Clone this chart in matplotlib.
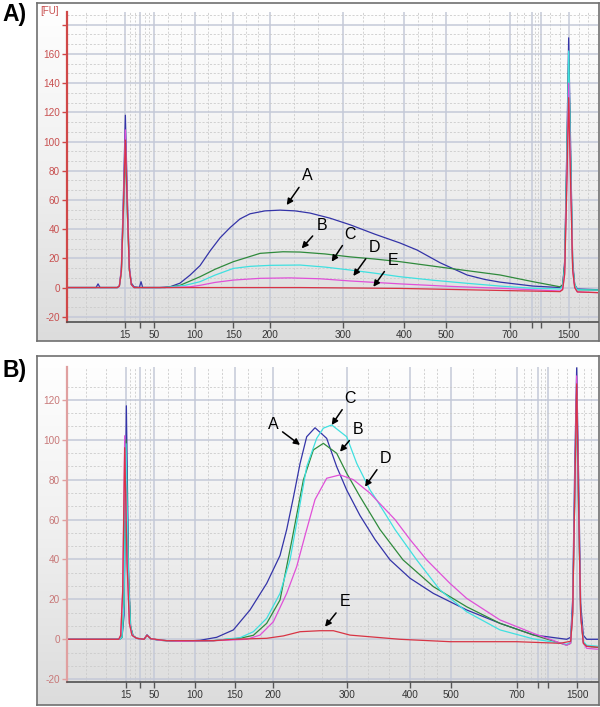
import numpy as np
import matplotlib
matplotlib.use("Agg")
import matplotlib.pyplot as plt
from matplotlib.colors import LinearSegmentedColormap

plt.rcParams['font.family'] = ['Liberation Sans', 'DejaVu Sans']

# ---------------------------------------------------------------
# ladder: size (bp) and migration time (s) of every ladder peak
# ---------------------------------------------------------------
ladder_bp = [15, 25, 50, 100, 150, 200, 300, 400, 500, 700, 850, 1000, 1500]
ladder_shown = ["15", "", "50", "100", "150", "200", "300", "400", "500", "700", "", "", "1500"]
a_ladder_t = [48.75, 51.0, 53.1, 59.25, 65.0, 70.5, 81.4, 90.6, 96.9, 106.5, 109.75, 111.1, 115.35]
b_ladder_t = [48.85, 51.0, 53.15, 59.25, 65.25, 71.0, 82.0, 91.5, 97.6, 107.5, 110.75, 112.15, 116.6]

# ---------------------------------------------------------------
# panel A traces (time s, fluorescence FU)
# ---------------------------------------------------------------
a_blue_t = [40, 44.4, 44.7, 45.0, 47.6, 47.9, 48.2, 48.5, 48.8, 49.1, 49.4, 49.7, 50.1, 50.9, 51.15, 51.4,
            54, 55.5, 57, 58.5, 60, 61.5, 63, 64.5, 66, 67.5, 69.75, 72, 74.25, 76.5, 79.5, 82.5, 86.25,
            90, 92.55, 96, 100.05, 102.75, 105, 109.95, 114, 114.4, 114.7, 115.0, 115.3, 115.6, 115.9,
            116.2, 116.6, 119.7]
a_blue_fu = [0, 0, 2.5, 0, 0, 1, 13, 62, 118, 62, 14, 3, 0.5, 0, 4, 0,
             0, 0.5, 3, 8.5, 15, 25, 34, 41, 47, 50.5, 52.5, 53, 52.5, 51, 47.5, 43, 36.5,
             30.5, 25.7, 17, 8.6, 5.5, 3.7, 1, 0, 1.5, 18, 90, 171, 95, 18,
             2, -1, -1.5]

a_green_t = [40, 47.6, 47.9, 48.2, 48.5, 48.8, 49.1, 49.4, 49.7, 50.1, 54.75, 57, 60, 62.25, 65, 69,
             72.45, 75, 78.75, 82.5, 86.25, 90, 97.5, 105, 109.95, 114, 114.4, 114.7, 115.0, 115.3,
             115.6, 115.9, 116.2, 116.6, 119.7]
a_green_fu = [0, 0, 1, 10, 50, 95, 50, 12, 2, 0, 0, 1.5, 7.4, 12.5, 17.7, 23.4,
              24.5, 24.3, 23, 21, 19.5, 17.7, 13.1, 8.6, 4, 0.5, 2, 15, 80, 156,
              85, 15, 2, -1.5, -1.7]

a_cyan_t = [40, 47.6, 47.9, 48.2, 48.5, 48.8, 49.1, 49.4, 49.7, 50.1, 54.75, 57.75, 60, 62.25, 65,
            67.5, 70.5, 75, 78.75, 82.5, 86.25, 90, 94.95, 100.05, 105, 109.95, 114, 114.4, 114.7,
            115.0, 115.3, 115.6, 115.9, 116.2, 116.6, 119.7]
a_cyan_fu = [0, 0, 1, 11, 52, 100, 52, 12, 2, 0, 0, 1.5, 4, 8.5, 13.1,
             14.5, 15.2, 15.4, 14, 12, 9.8, 7.4, 5, 2.9, 1, -0.5, -1, 1, 14,
             80, 162, 85, 15, 2, -1.5, -1.7]

a_magenta_t = [40, 47.6, 47.9, 48.2, 48.5, 48.8, 49.1, 49.4, 49.7, 50.1, 55.5, 58.5, 60, 62.25, 65,
               69, 73.5, 78, 82.5, 90, 97.5, 105, 114, 114.4, 114.7, 115.0, 115.3, 115.6, 115.9,
               116.2, 116.6, 119.7]
a_magenta_fu = [0, 0, 1, 12, 56, 108, 56, 13, 2, 0, 0, 0.5, 1.5, 3.5, 5.1,
                6.3, 6.6, 6, 4.5, 2.5, 0.8, -0.5, -2.4, -1, 10, 70, 140, 75, 12,
                0, -3, -3.5]

a_red_t = [40, 47.6, 47.9, 48.2, 48.5, 48.8, 49.1, 49.4, 49.7, 50.1, 75, 90, 105, 114, 114.4,
           114.7, 115.0, 115.3, 115.6, 115.9, 116.2, 116.6, 119.7]
a_red_fu = [0, 0, 1, 11, 53, 101, 53, 12, 2, 0, 0, -0.6, -2, -2.8, -1.5,
            9, 65, 130, 70, 12, 0, -3, -3.5]

# ---------------------------------------------------------------
# panel B traces
# ---------------------------------------------------------------
b_blue_t = [40, 47.9, 48.3, 48.6, 48.95, 49.3, 49.6, 50.0, 50.5, 51.6, 52.05, 52.6, 54, 57, 60,
            62.5, 65, 67.5, 70, 72, 73, 74, 75, 76, 77.25, 79, 80.5, 82, 84, 86.25, 88.5,
            91.5, 95, 100, 105, 110, 115, 115.6, 115.9, 116.2, 116.5, 116.8, 117.1, 117.5, 118, 119.7]
b_blue_fu = [0, 0, 1, 12, 117, 30, 6, 1.5, 0.5, 0, 2.2, 0.3, -0.5, -1, -0.5,
             1, 4.7, 14.7, 28, 42, 55, 71, 88, 101.5, 106, 100.7, 86.5, 74.8, 62, 50, 39.8,
             30.6, 23, 14.7, 8, 2.2, 0, 1, 20, 85, 136, 80, 18, 2, 0, 0]

b_cyan_t = [40, 47.9, 48.3, 48.6, 48.9, 49.25, 49.55, 49.9, 50.5, 51.6, 52.05, 52.6, 54, 57, 62,
            63.75, 66, 68, 70, 72, 73.5, 74.7, 76, 77.5, 78.5, 79.75, 82, 83.5, 85.5, 86.5,
            89.25, 92.5, 96, 100, 105, 110, 115, 115.6, 115.9, 116.2, 116.5, 116.8, 117.1, 117.5,
            118, 119.7]
b_cyan_fu = [0, 0, 1, 18, 98, 35, 7, 2, 0.5, 0, 2.2, 0.3, -0.5, -1, -0.7,
             0, 0.8, 3.8, 10.5, 23, 39.8, 62, 86.5, 100.7, 105.8, 107.4, 101.5, 88.2, 74.8, 69.8,
             55, 39.8, 24.7, 13.8, 4.7, 0.2, -2.5, -1.5, 15, 70, 122, 65, 12, -1,
             -3, -3.5]

b_green_t = [40, 47.9, 48.3, 48.6, 48.9, 49.25, 49.55, 49.9, 50.5, 51.6, 52.05, 52.6, 54, 57, 62,
             64, 66, 68, 70, 72, 73.8, 75.5, 77, 78.5, 80.5, 82, 84, 87, 90.45, 95,
             100, 105, 110, 115, 115.6, 115.9, 116.2, 116.5, 116.8, 117.1, 117.5, 118, 119.7]
b_green_fu = [0, 0, 1, 18, 100, 35, 7, 2, 0.5, 0, 2.2, 0.3, -0.5, -1, -0.7,
              0, 0.5, 2, 8, 19.7, 50, 79.8, 94.9, 98.2, 93.2, 83.2, 71.5, 55, 39.8, 26.4,
              16.3, 8, 2.2, -2.9, -2, 14, 68, 124, 62, 12, -1.5, -3.5, -4]

b_magenta_t = [40, 47.8, 48.1, 48.4, 48.7, 49.05, 49.4, 49.8, 50.5, 51.6, 52.05, 52.6, 54, 57, 62,
               67, 69, 71, 73, 74.5, 75.75, 77.25, 79, 81, 83, 85.5, 89.25, 91.5, 94, 97.5,
               100, 105, 110, 115, 115.6, 115.9, 116.2, 116.5, 116.8, 117.1, 117.5, 118, 119.7]
b_magenta_fu = [0, 0, 2, 25, 102, 40, 8, 2, 0.5, 0, 2.2, 0.3, -0.5, -1, -0.7,
                0, 2.1, 8.8, 23, 36.4, 52, 70, 80.7, 82.4, 80, 73.2, 60, 50, 39.8, 28,
                20.5, 9.7, 3, -3, -2, 14, 72, 132, 68, 12, -2, -4.5, -5]

b_red_t = [40, 47.8, 48.1, 48.4, 48.7, 49.05, 49.4, 49.8, 50.5, 51.6, 52.05, 52.6, 55, 62, 65,
           70, 72.5, 75, 78, 80, 82.5, 90, 97.5, 107.5, 114, 115.6, 115.9, 116.2, 116.5, 116.8,
           117.1, 117.5, 118, 119.7]
b_red_fu = [0, 0, 2, 24, 96, 38, 8, 2, 0.5, 0, 2, 0.3, -0.7, -0.7, 0,
            0.5, 1.7, 3.8, 4.3, 4.3, 2.1, 0, -1.2, -1.2, -2, -1, 12, 70, 128, 66,
            12, -2, -3.5, -4]

# annotation letters: arrow tip and text position (data coords)
note_letters = ["A", "B", "C", "D", "E"]
a_note_tip = [(73.0, 56.5), (75.25, 26.8), (79.75, 17.7), (83.0, 7.9), (86.0, 0.5)]
a_note_txt = [(76.05, 76.4), (78.25, 42.3), (82.5, 36.6), (86.1, 27.5), (88.9, 18.8)]
b_note_tip = [(75.0, 97.4), (81.0, 94.0), (79.75, 107.4), (84.75, 76.5), (78.75, 6.3)]
b_note_txt = [(71.0, 107.4), (83.75, 104.9), (82.5, 120.8), (87.75, 90.7), (81.75, 18.8)]

colors = {"blue": "#3434a8", "green": "#2f8a3c", "cyan": "#3fe0e0",
          "magenta": "#e050d8", "red": "#d83444"}

W, H = 600, 707
fig = plt.figure(figsize=(W / 100, H / 100), dpi=100)


def rect(x0, y0, x1, y1):
    return [x0 / W, 1 - y1 / H, (x1 - x0) / W, (y1 - y0) / H]


bg_cmap = LinearSegmentedColormap.from_list("bg", ["#ffffff", "#f0f0f0", "#dcdcdc"])


def draw_panel(box, area, ladder_t, traces, ylim, ymax_tick, ymax_label, spine_col, lab_col, tips, txts):
    # gray gradient box
    bg = fig.add_axes(rect(*box))
    bg.imshow(np.linspace(0, 1, 256)[:, None], aspect="auto", cmap=bg_cmap,
              extent=(0, 1, 0, 1), origin="upper")
    bg.set_xticks([])
    bg.set_yticks([])
    for s in bg.spines.values():
        s.set_color("#707070")
        s.set_linewidth(1.2)

    ax = fig.add_axes(rect(*area))
    ax.set_facecolor("none")

    # ladder ticks, minor lines split each interval in thirds
    ax.set_xticks(ladder_t, labels=ladder_shown)
    edges = [40] + list(ladder_t) + [119.7]
    minor = []
    for a, b in zip(edges[:-1], edges[1:]):
        minor += [a + (b - a) / 3, a + 2 * (b - a) / 3]
    ax.set_xticks(minor, minor=True)
    yt = list(range(-20, ymax_tick + 1, 20))
    ax.set_yticks(yt, labels=[str(v) if v <= ymax_label else "" for v in yt])
    ax.set_yticks(np.arange(-20, ymax_tick + 10, 20 / 3), minor=True)
    ax.set_xlim(40, 119.7)
    ax.set_ylim(*ylim)

    ax.set_axisbelow(True)
    ax.grid(True, which="major", color="#c4c9d8", lw=1.1)
    ax.grid(True, which="minor", color="#cbcbcb", lw=0.6, ls=(0, (2.5, 2)))
    ax.tick_params(which="minor", length=0)
    ax.tick_params(axis="x", which="major", length=4, width=1, color="#555555",
                   labelsize=7.2, labelcolor="#333333", pad=2)
    ax.tick_params(axis="y", which="major", length=3.5, width=1, color=spine_col,
                   labelcolor=lab_col, labelsize=7.2, pad=1.5)
    ax.spines["top"].set_visible(False)
    ax.spines["right"].set_visible(False)
    ax.spines["left"].set_color(spine_col)
    ax.spines["left"].set_linewidth(1.6)
    ax.spines["bottom"].set_color("#505050")
    ax.spines["bottom"].set_linewidth(1.2)

    for name, t, fu in traces:
        ax.plot(t, fu, color=colors[name], lw=0.9)

    for letter, tip, txt in zip(note_letters, tips, txts):
        ax.annotate(letter, xy=tip, xytext=txt, ha="center", va="center", fontsize=11.5,
                    arrowprops=dict(arrowstyle="-|>", color="black", lw=1.1,
                                    mutation_scale=9, shrinkA=1, shrinkB=0))
    return ax


a_traces = [("blue", a_blue_t, a_blue_fu), ("green", a_green_t, a_green_fu),
            ("cyan", a_cyan_t, a_cyan_fu), ("magenta", a_magenta_t, a_magenta_fu),
            ("red", a_red_t, a_red_fu)]
b_traces = [("blue", b_blue_t, b_blue_fu), ("green", b_green_t, b_green_fu),
            ("cyan", b_cyan_t, b_cyan_fu), ("magenta", b_magenta_t, b_magenta_fu),
            ("red", b_red_t, b_red_fu)]

draw_panel((37, 3, 599, 341), (66.7, 11.7, 598, 321.7), a_ladder_t, a_traces,
           (-23.4, 188.9), 180, 160, "#d04848", "#c85050", a_note_tip, a_note_txt)
draw_panel((37, 356, 599, 705), (66.7, 366.7, 598, 682), b_ladder_t, b_traces,
           (-21.4, 136.6), 120, 120, "#e0a0a0", "#c87878", b_note_tip, b_note_txt)

fig.text(40 / W, 1 - 11 / H, "[FU]", color="#c85050", fontsize=7, va="center", ha="left")
fig.text(2 / W, 1 - 15 / H, "A)", fontsize=16.5, fontweight="bold", va="center", ha="left")
fig.text(2 / W, 1 - 370 / H, "B)", fontsize=16.5, fontweight="bold", va="center", ha="left")

fig.savefig("out.png", dpi=100)
